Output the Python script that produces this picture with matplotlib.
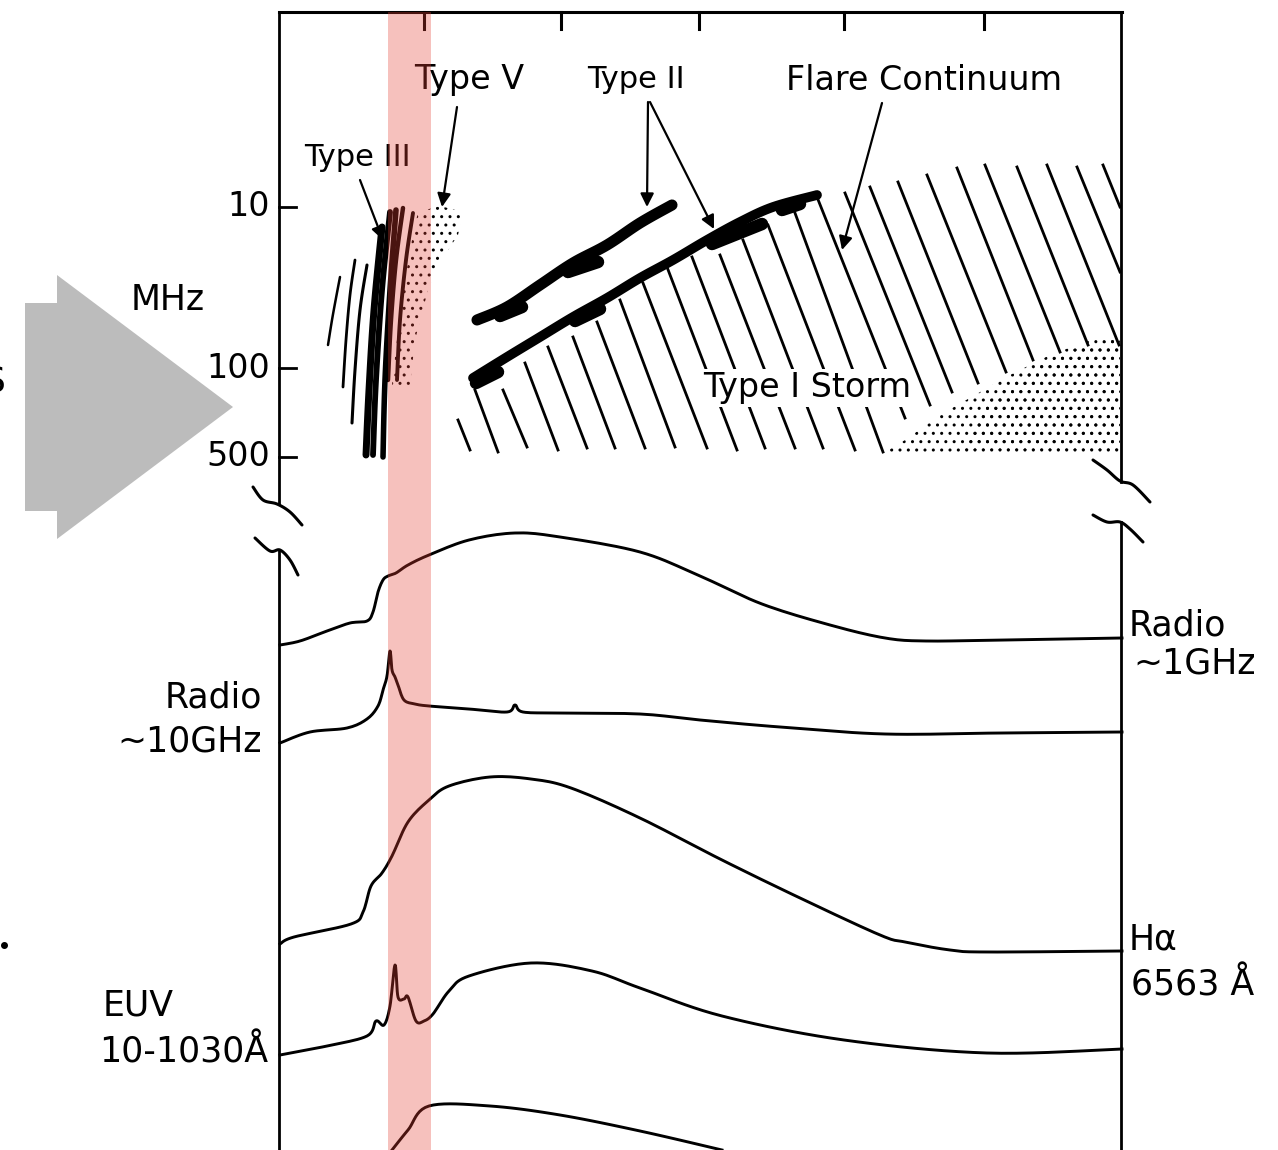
import numpy as np
import matplotlib.pyplot as plt
from matplotlib.patches import Polygon

# ---- light curves (time vs. intensity, y grows downward)
radio1_x = [280, 300, 327, 350, 367, 373, 378, 383, 388, 396, 408, 429, 469, 515, 560, 640, 700, 762, 830, 885, 926, 1000, 1122]
radio1_y = [645, 641, 631, 623, 621, 612, 592, 580, 576, 573, 565, 555, 540, 533, 537, 552, 576, 604, 625, 638, 641, 640, 638]

radio10_x = [280, 310, 347, 367, 378, 383, 387, 390, 392, 395, 398, 404, 415, 429, 469, 507, 515, 523, 560, 640, 700, 780, 885, 1000, 1122]
radio10_y = [743, 732, 728, 719, 706, 690, 676, 651, 670, 677, 685, 700, 704, 706, 709, 712, 705, 712, 713, 714, 720, 727, 734, 733, 732]

halpha_x = [280, 294, 351, 363, 371, 382, 392, 408, 429, 449, 490, 531, 571, 640, 722, 800, 880, 905, 950, 987, 1122]
halpha_y = [944, 937, 924, 912, 886, 873, 856, 822, 800, 786, 777, 779, 788, 818, 860, 898, 935, 942, 950, 952, 951]

euv_x = [280, 327, 367, 376, 384, 390, 395, 398, 404, 408, 416, 424, 433, 449, 469, 531, 592, 640, 722, 844, 987, 1122]
euv_y = [1055, 1046, 1036, 1021, 1025, 1006, 965, 997, 999, 997, 1021, 1021, 1014, 991, 976, 963, 971, 988, 1016, 1040, 1053, 1049]

xray_x = [392, 408, 429, 490, 560, 640, 722]
xray_y = [1150, 1130, 1106, 1106, 1115, 1131, 1150]

# ---- dynamic spectrum: fast-drift bursts
burst_x = [[328, 332, 336, 340], [343, 346, 350, 355], [352, 355, 360, 367],
           [366, 369, 374, 382], [373, 376, 382, 390], [383, 385, 390, 396],
           [388, 391, 396, 403], [397, 400, 406, 413]]
burst_y = [[345, 320, 298, 277], [387, 340, 295, 260], [423, 370, 310, 265],
           [455, 390, 310, 227], [455, 380, 290, 212], [457, 380, 290, 210],
           [380, 320, 260, 208], [380, 320, 260, 213]]
burst_w = [1.8, 2.0, 2.2, 5.0, 4.2, 4.0, 3.2, 2.8]

# slow-drift bands
band_up_x = [477, 507, 540, 573, 607, 640, 672]
band_up_y = [320, 307, 285, 263, 245, 223, 205]
band_lo_x = [473, 507, 540, 573, 607, 640, 673, 707, 740, 773, 817]
band_lo_y = [378, 357, 337, 317, 298, 278, 260, 240, 222, 207, 195]
blob_x = [[500, 522], [568, 598], [476, 498], [575, 600], [712, 762], [782, 800]]
blob_y = [[312, 303], [268, 258], [379, 368], [317, 305], [240, 220], [206, 200]]

# continuum hatching (top and bottom end of each stroke)
hatch_x0 = [458, 475, 503, 525, 548, 573, 597, 620, 643, 667, 692, 720, 743, 768, 795, 817,
            845, 870, 898, 927, 957, 985, 1017, 1047, 1077, 1103]
hatch_y0 = [420, 390, 390, 363, 347, 337, 322, 300, 283, 267, 257, 255, 240, 225, 213, 197,
            193, 187, 182, 175, 168, 165, 167, 165, 167, 165]
hatch_x1 = [470, 498, 527, 558, 587, 615, 645, 675, 707, 737, 765, 795, 823, 855, 883, 905,
            930, 952, 978, 1006, 1033, 1060, 1088, 1119, 1120, 1120]
hatch_y1 = [450, 452, 447, 450, 448, 448, 448, 447, 448, 450, 448, 448, 448, 450, 452, 418,
            405, 392, 383, 372, 360, 352, 345, 345, 272, 207]

storm_x = [885, 905, 940, 975, 1010, 1050, 1085, 1120, 1120]
storm_y = [452, 440, 415, 395, 375, 355, 342, 335, 452]
storm2_x = [990, 1030, 1070, 1120, 1120, 960]
storm2_y = [400, 370, 350, 338, 450, 450]
typev_x = [392, 398, 405, 412, 418, 440, 463, 458, 440, 428, 415, 410]
typev_y = [385, 330, 280, 240, 212, 206, 212, 235, 262, 290, 340, 385]

freq_ticks = ["10", "100", "500"]
freq_pos = [207, 368, 457]
time_ticks = [424, 561, 699, 844, 984]

# axis break marks
brk_x = [[253, 263, 277, 290, 302], [255, 270, 280, 290, 298],
         [1093, 1107, 1120, 1133, 1150], [1093, 1107, 1120, 1130, 1143]]
brk_y = [[487, 500, 504, 512, 525], [538, 551, 550, 560, 575],
         [460, 470, 481, 485, 502], [515, 522, 522, 529, 542]]

# grey arrow at the left
garrow_x = [25, 57, 57, 233, 57, 57, 25]
garrow_y = [303, 303, 275, 407, 539, 511, 511]


def smooth(x, y, n=10):
    # Catmull-Rom pass through the read points, only to round the pen strokes
    p = np.column_stack([x, y]).astype(float)
    p = np.vstack([p[0], p, p[-1]])
    t = np.linspace(0, 1, n, endpoint=False)[:, None]
    out = []
    for i in range(1, len(p) - 2):
        p0, p1, p2, p3 = p[i - 1], p[i], p[i + 1], p[i + 2]
        out.append(0.5 * (2 * p1 + (p2 - p0) * t + (2 * p0 - 5 * p1 + 4 * p2 - p3) * t ** 2
                          + (3 * p1 - p0 - 3 * p2 + p3) * t ** 3))
    out.append(p[-2][None])
    s = np.vstack(out)
    return s[:, 0], s[:, 1]


fig = plt.figure(figsize=(12.78, 11.5), dpi=100)
ax = fig.add_axes([0, 0, 1, 1])
ax.set_xlim(0, 1278)
ax.set_ylim(1150, 0)
ax.axis("off")

k = "black"
ax.add_patch(Polygon(np.column_stack([garrow_x, garrow_y]), closed=True, fc="#bcbcbc", ec="none"))
ax.text(-6, 382, "S", fontsize=26, ha="center", va="center")
ax.plot([4], [945], "o", color=k, ms=4)

# frame
ax.plot([279, 1122], [12, 12], color=k, lw=2.2)
ax.plot([279, 279], [12, 503], color=k, lw=2.0)
ax.plot([279, 279], [551, 1150], color=k, lw=2.0)
ax.plot([1121, 1121], [12, 482], color=k, lw=2.0)
ax.plot([1121, 1121], [522, 1150], color=k, lw=2.0)
for bx, by in zip(brk_x, brk_y):
    ax.plot(*smooth(bx, by), color=k, lw=2.2, solid_capstyle="round")
for t in time_ticks:
    ax.plot([t, t], [12, 29], color=k, lw=2.2)
for lab, p in zip(freq_ticks, freq_pos):
    ax.plot([279, 296], [p, p], color=k, lw=2.0)
    ax.text(270, p, lab, fontsize=24, ha="right", va="center")
ax.text(168, 300, "MHz", fontsize=25, ha="center", va="center")

# light curves
for cx, cy in [(radio1_x, radio1_y), (radio10_x, radio10_y), (halpha_x, halpha_y),
               (euv_x, euv_y), (xray_x, xray_y)]:
    ax.plot(*smooth(cx, cy), color=k, lw=2.1, solid_joinstyle="round")

ax.text(262, 697, "Radio", fontsize=25, ha="right", va="center")
ax.text(262, 742, "~10GHz", fontsize=25, ha="right", va="center")
ax.text(103, 1005, "EUV", fontsize=25, ha="left", va="center")
ax.text(268, 1052, "10-1030Å", fontsize=25, ha="right", va="center")
ax.text(1129, 625, "Radio", fontsize=25, ha="left", va="center")
ax.text(1133, 663, "~1GHz", fontsize=25, ha="left", va="center")
ax.text(1129, 940, "Hα", fontsize=25, ha="left", va="center")
ax.text(1131, 985, "6563 Å", fontsize=25, ha="left", va="center")

# dynamic spectrum
for bx, by, w in zip(burst_x, burst_y, burst_w):
    ax.plot(*smooth(bx, by), color=k, lw=w, solid_capstyle="round")
ax.plot(*smooth(band_up_x, band_up_y), color=k, lw=8, solid_capstyle="round")
ax.plot(*smooth(band_lo_x, band_lo_y), color=k, lw=7, solid_capstyle="round")
for bx, by in zip(blob_x, blob_y):
    ax.plot(bx, np.array(by) + 4, color=k, lw=9, solid_capstyle="round")
for x0, y0, x1, y1 in zip(hatch_x0, hatch_y0, hatch_x1, hatch_y1):
    ax.plot([x0, x1], [y0, y1], color=k, lw=2.0)
for px, py, h in [(storm_x, storm_y, ".."), (storm2_x, storm2_y, ".."), (typev_x, typev_y, "..")]:
    ax.add_patch(Polygon(np.column_stack([px, py]), closed=True, fc="none",
                         ec=k, lw=0, hatch=h))

ax.text(807, 388, "Type I Storm", fontsize=24, ha="center", va="center",
        bbox=dict(fc="white", ec="none", pad=2), zorder=5)

arr = dict(arrowstyle="-|>", color=k, lw=1.6, mutation_scale=20, shrinkA=0, shrinkB=0)
ax.text(357, 157, "Type III", fontsize=22, ha="center", va="center")
ax.annotate("", xy=(383, 240), xytext=(360, 180), arrowprops=arr)
ax.text(469, 80, "Type V", fontsize=24, ha="center", va="center")
ax.annotate("", xy=(442, 207), xytext=(457, 107), arrowprops=arr)
ax.text(636, 80, "Type II", fontsize=22, ha="center", va="center")
ax.annotate("", xy=(647, 207), xytext=(648, 102), arrowprops=arr)
ax.annotate("", xy=(714, 229), xytext=(650, 102), arrowprops=arr)
ax.text(924, 80, "Flare Continuum", fontsize=24, ha="center", va="center")
ax.annotate("", xy=(842, 250), xytext=(882, 103), arrowprops=arr)

# highlighted interval
ax.axvspan(388, 431, ymin=0, ymax=1 - 12 / 1150, color=(0.9, 0.25, 0.2), alpha=0.32, lw=0, zorder=6)

fig.savefig("out.png", dpi=100)
